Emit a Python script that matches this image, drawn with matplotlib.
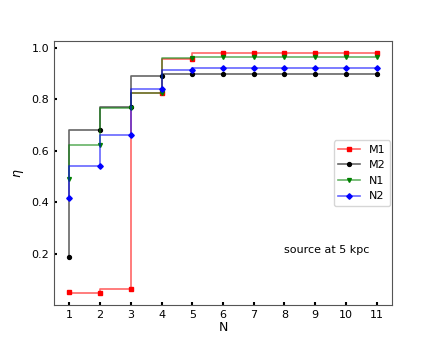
import matplotlib
matplotlib.use("Agg")
import matplotlib.pyplot as plt

N = [1, 2, 3, 4, 5, 6, 7, 8, 9, 10, 11]
M1 = [0.053, 0.048, 0.063, 0.822, 0.955, 0.978, 0.978, 0.978, 0.978, 0.978, 0.978]
M2 = [0.187, 0.681, 0.768, 0.890, 0.896, 0.896, 0.896, 0.896, 0.896, 0.896, 0.896]
N1 = [0.491, 0.622, 0.764, 0.824, 0.960, 0.963, 0.963, 0.963, 0.963, 0.963, 0.963]
N2 = [0.415, 0.539, 0.660, 0.838, 0.912, 0.921, 0.921, 0.921, 0.921, 0.921, 0.921]

plt.rcParams['font.size'] = 8

fig = plt.figure(figsize=(4.36, 3.49), dpi=100)
ax = fig.add_axes([0.124, 0.126, 0.775, 0.756])

series = [(M1, 'M1', 'red', 's'), (M2, 'M2', 'black', 'o'),
          (N1, 'N1', 'green', 'v'), (N2, 'N2', 'blue', 'D')]
for vals, lab, c, m in series:
    rgba = matplotlib.colors.to_rgba(c, 0.6)
    ax.plot(N, vals, drawstyle='steps-pre', color=rgba, lw=1.2,
            marker=m, ms=2.8, mfc=c, mec=c, label=lab)

ax.set_xticks(N)
ax.set_yticks([0.2, 0.4, 0.6, 0.8, 1.0])
ax.tick_params(direction='in', length=2, width=1.5, color='black')
for s in ax.spines.values():
    s.set_color('#555555')
ax.set_xlabel('N', fontsize=9, labelpad=1)
ax.set_ylabel(r'$\eta$', fontsize=9)
ax.text(8.0, 0.213, 'source at 5 kpc', va='center')
ax.legend(loc='center right', bbox_to_anchor=(1.0, 0.5), borderaxespad=0.15)

fig.savefig('out.png', dpi=100)
